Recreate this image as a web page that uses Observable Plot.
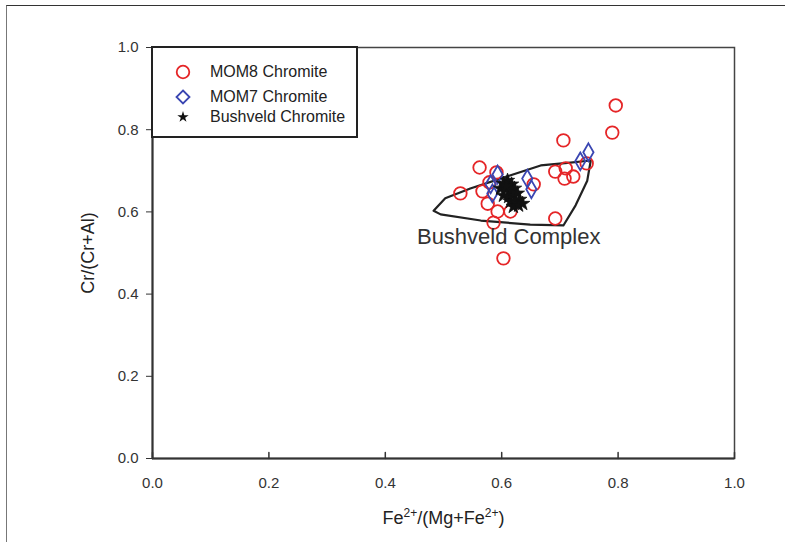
<!DOCTYPE html>
<html><head><meta charset="utf-8">
<script src="https://cdn.jsdelivr.net/npm/d3@7"></script>
<script src="https://cdn.jsdelivr.net/npm/@observablehq/plot@0.6"></script>
<style>
body{margin:0;background:#fff;font-family:"Liberation Sans",Arial,sans-serif;}
#wrap{position:relative;width:785px;height:542px;overflow:hidden;}
#border{position:absolute;left:6px;top:5px;width:800px;height:560px;border-top:1.5px solid #333;border-left:1.5px solid #777;pointer-events:none;}
#legend{position:absolute;left:151px;top:46px;width:203px;height:88px;border:2.5px solid #222;background:#fff;}
.item{position:absolute;left:0;height:20px;display:flex;align-items:center;font-size:16px;color:#222;}
.item svg{position:absolute;left:20px;}
.item span{position:absolute;left:57px;white-space:nowrap;}
</style></head><body>
<div id="wrap"><div id="chart"></div><div id="border"></div><div id="legend"></div></div>
<script>
// MOM8 Chromite (red circles)
const mom8X = [0.796,0.790,0.706,0.562,0.591,0.529,0.567,0.576,0.593,0.615,0.586,0.603,0.692,0.692,0.710,0.708,0.723,0.746,0.655,0.579];
const mom8Y = [0.859,0.793,0.774,0.708,0.696,0.645,0.650,0.620,0.601,0.601,0.574,0.487,0.584,0.698,0.706,0.681,0.686,0.718,0.667,0.672];
// MOM7 Chromite (blue diamonds)
const mom7X = [0.749,0.735,0.593,0.581,0.584,0.644,0.651];
const mom7Y = [0.745,0.723,0.691,0.667,0.645,0.681,0.655];
// Bushveld Chromite (black stars)
const bushX = [0.603,0.610,0.617,0.598,0.607,0.615,0.622,0.603,0.612,0.620,0.627,0.615,0.624,0.631,0.620,0.629,0.608,0.636];
const bushY = [0.669,0.676,0.667,0.657,0.655,0.652,0.657,0.640,0.637,0.640,0.645,0.625,0.625,0.630,0.613,0.616,0.662,0.620];
// Bushveld Complex field outline
const fieldX = [0.483,0.503,0.546,0.598,0.667,0.718,0.753,0.747,0.727,0.706,0.649,0.564,0.495,0.483];
const fieldY = [0.603,0.633,0.657,0.681,0.713,0.720,0.725,0.676,0.616,0.567,0.569,0.579,0.594,0.603];
const fieldLabel = [{x:0.612, y:0.538, text:"Bushveld Complex"}];
const ticks = [0,0.2,0.4,0.6,0.8,1.0];
const series = ["MOM8 Chromite","MOM7 Chromite","Bushveld Chromite"];
const xLabelParts = [["Fe",false],["2+",true],["/(Mg+Fe",false],["2+",true],[")",false]];
const xLabel = xLabelParts.map(p => p[0]).join("");
const yLabel = "Cr/(Cr+Al)";

const toPts = (xs, ys) => xs.map((x,i)=>({x, y: ys[i]}));
const mom8 = toPts(mom8X, mom8Y), mom7 = toPts(mom7X, mom7Y), bush = toPts(bushX, bushY), field = toPts(fieldX, fieldY);
const fmt = d3.format(".1f");
const RED = "#e52527", BLUE = "#3a46b2", BLACK = "#111";

const chart = Plot.plot({
  width: 785, height: 542,
  marginLeft: 152, marginRight: 51, marginTop: 47, marginBottom: 84,
  style: {fontFamily: "'Liberation Sans', Arial, sans-serif", fontSize: "15px", color: "#333", background: "white"},
  x: {domain: [0, 1]}, y: {domain: [0, 1]},
  marks: [
    Plot.frame({stroke: "#444", strokeWidth: 1.5}),
    Plot.ruleX([0], {stroke: "#333", strokeWidth: 2}),
    Plot.ruleY([0], {stroke: "#333", strokeWidth: 2}),
    Plot.axisY(ticks, {tickSize: 6, tickPadding: 8, tickFormat: fmt, fontSize: 15, label: null, stroke: "#333"}),
    Plot.axisX(ticks, {tickSize: 0, tickPadding: 19, tickFormat: fmt, fontSize: 15, label: null}),
    Plot.vector(ticks, {x: d => d, frameAnchor: "bottom", length: 6, shape: "spike", r: 0, anchor: "start", stroke: "#333", strokeWidth: 1.5, fill: "none"}),
    Plot.line(field, {x: "x", y: "y", stroke: "#222", strokeWidth: 2.2, strokeLinejoin: "round"}),
    Plot.dot(mom8, {x: "x", y: "y", r: 6.3, symbol: "circle", stroke: RED, strokeWidth: 1.8}),
    Plot.dot(mom7, {x: "x", y: "y", r: 5.4, symbol: "diamond", stroke: BLUE, strokeWidth: 1.8}),
    Plot.dot(bush, {x: "x", y: "y", r: 4.5, symbol: "star", fill: BLACK, stroke: BLACK, strokeWidth: 0.8}),
    Plot.text(fieldLabel, {x: "x", y: "y", text: "text", fontSize: 22, fill: "#333"}),
    Plot.text([yLabel], {frameAnchor: "left", dx: -64, rotate: -90, textAnchor: "middle", lineAnchor: "middle", fontSize: 18, fill: "#222"}),
    Plot.text([xLabel], {frameAnchor: "bottom", dy: 60, textAnchor: "middle", lineAnchor: "middle", fontSize: 18, fill: "#222", className: "xlab"})
  ]
});
document.getElementById("chart").appendChild(chart);

// superscripts in x label as real tspans
const xt = d3.select(chart).select("g.xlab text");
xt.text(null);
let up = false;
xLabelParts.forEach(([s, sup]) => {
  const dy = sup && !up ? -7 : (!sup && up ? 7 : 0);
  xt.append("tspan").attr("dy", dy).attr("font-size", sup ? 12 : null).text(s);
  up = sup;
});

// legend
const legend = document.getElementById("legend");
const syms = [
  `<circle cx="10" cy="10" r="6.3" fill="none" stroke="${RED}" stroke-width="1.8"/>`,
  `<path d="M10,3.5L16.5,10L10,16.5L3.5,10Z" fill="none" stroke="${BLUE}" stroke-width="1.8"/>`,
  `<path d="${d3.symbol(d3.symbolStar, 40)()}" transform="translate(10,10)" fill="${BLACK}"/>`
];
const rowTops = [14, 39, 59];
series.forEach((name, i) => {
  const div = document.createElement("div");
  div.className = "item";
  div.style.top = rowTops[i] + "px";
  div.innerHTML = `<svg width="20" height="20">${syms[i]}</svg><span>${name}</span>`;
  legend.appendChild(div);
});
</script>
</body></html>
